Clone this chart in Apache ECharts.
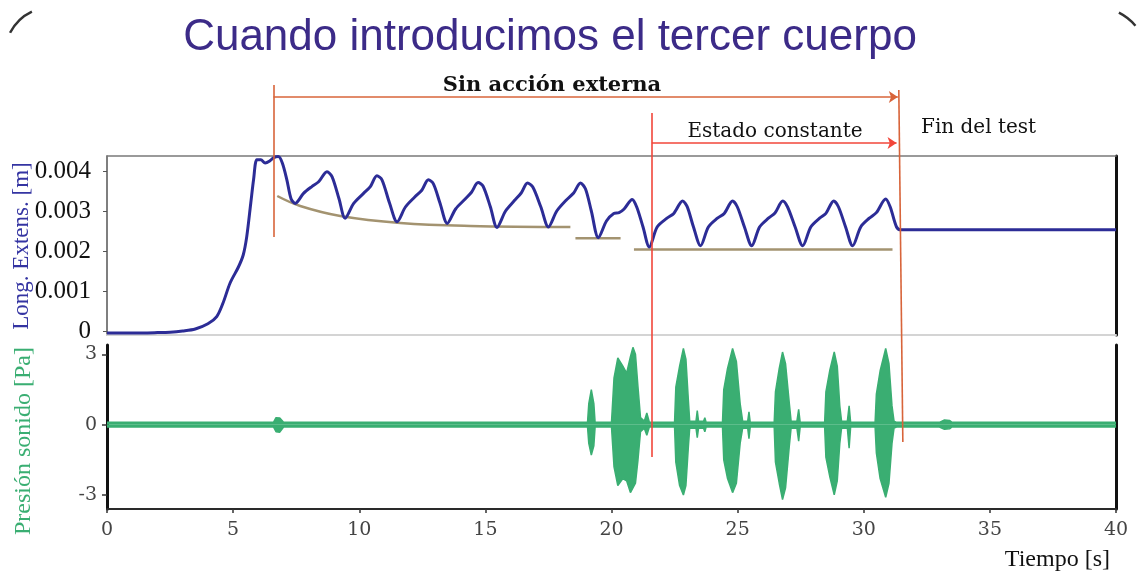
<!DOCTYPE html>
<html>
<head>
<meta charset="utf-8">
<script src="https://cdn.jsdelivr.net/npm/echarts@6/dist/echarts.min.js"></script>
<style>
html,body{margin:0;padding:0;background:#fff;}
#chart{width:1137px;height:571px;}
</style>
</head>
<body>
<div id="chart"></div>
<script>
// ---------- Data ----------
// Upper panel: longitudinal extension [m] vs time [s]
const extTime = [0, 1.0, 2.0, 2.5, 3.0, 3.5, 4.0, 4.35, 4.6, 4.88, 5.21, 5.4, 5.54, 5.7, 5.81, 5.94, 6.1, 6.27, 6.45, 6.6, 6.79, 6.95, 7.13, 7.3,
  7.46, 7.79, 8.12, 8.39, 8.72, 8.92, 9.2,
  9.44, 9.78, 10.17, 10.44, 10.7, 10.9, 11.2,
  11.5, 11.83, 12.2, 12.48, 12.74, 12.94, 13.2,
  13.49, 13.82, 14.2, 14.45, 14.71, 14.91, 15.2,
  15.46, 15.8, 16.15, 16.42, 16.67, 16.88, 17.2,
  17.5, 17.83, 18.2, 18.5, 18.77, 18.97, 19.2,
  19.48, 19.8, 20.09, 20.3, 20.5, 20.82, 21.0, 21.25,
  21.5, 21.81, 22.2, 22.47, 22.82, 23.0, 23.25,
  23.53, 23.84, 24.2, 24.47, 24.8, 24.99, 25.27,
  25.56, 25.87, 26.22, 26.48, 26.79, 26.98, 27.28,
  27.58, 27.9, 28.25, 28.5, 28.81, 29.0, 29.28,
  29.56, 29.88, 30.22, 30.5, 30.87, 31.05, 31.3, 31.47, 40];
const extValue = [-0.00005, -0.00005, -0.00004, -0.00003, 0.0, 0.00005, 0.00018, 0.00036, 0.0007, 0.0012, 0.0016, 0.0019, 0.00236, 0.0032, 0.00378, 0.00428, 0.00428, 0.0042, 0.00425, 0.00433, 0.00436, 0.0042, 0.00378, 0.0033,
  0.00319, 0.00344, 0.00361, 0.00373, 0.00398, 0.00386, 0.0033,
  0.00282, 0.00319, 0.00344, 0.00361, 0.00388, 0.00378, 0.0032,
  0.00273, 0.0031, 0.00335, 0.00352, 0.00378, 0.00368, 0.0032,
  0.00269, 0.00305, 0.0033, 0.00347, 0.00371, 0.00362, 0.0031,
  0.00259, 0.003, 0.00326, 0.00345, 0.0037, 0.0036, 0.0031,
  0.0026, 0.003, 0.00327, 0.00345, 0.0037, 0.00355, 0.003,
  0.00233, 0.00275, 0.00294, 0.00296, 0.00305, 0.00329, 0.0031, 0.0026,
  0.0021, 0.0026, 0.00282, 0.00294, 0.00325, 0.00311, 0.0026,
  0.00213, 0.0026, 0.00282, 0.00294, 0.00325, 0.0031, 0.0026,
  0.00213, 0.0026, 0.00282, 0.00295, 0.00325, 0.0031, 0.0026,
  0.00213, 0.0026, 0.00282, 0.00294, 0.00325, 0.0031, 0.0026,
  0.00213, 0.0026, 0.00282, 0.00296, 0.0033, 0.0031, 0.0026, 0.00253, 0.00253];

// Brown trend guides drawn on the upper panel
const trendATime = [6.75, 7.66, 9.25, 11.63, 14.4, 18.37];
const trendAValue = [0.003375, 0.003125, 0.002875, 0.0027, 0.002625, 0.0026];
const trendBTime = [18.57, 20.36];
const trendBValue = [0.00232, 0.00232];
const trendCTime = [20.89, 31.14];
const trendCValue = [0.00204, 0.00204];

// Lower panel: sound pressure envelope [Pa] vs time [s]
const soundTime = [0, 6.6, 6.7, 6.85, 7.0,
  19.05, 19.1, 19.2, 19.3, 19.35,
  20.0, 20.1, 20.25, 20.45, 20.6, 20.75, 20.85, 20.95, 21.05, 21.15, 21.3, 21.4, 21.5,
  22.5, 22.55, 22.7, 22.85, 22.95, 23.05, 23.1, 23.35, 23.4, 23.45, 23.65, 23.7, 23.75,
  24.4, 24.45, 24.6, 24.8, 24.95, 25.1, 25.2, 25.4, 25.45, 25.5,
  26.45, 26.5, 26.65, 26.78, 26.9, 27.05, 27.12, 27.35, 27.42, 27.48,
  28.45, 28.5, 28.65, 28.83, 28.95, 29.05, 29.12, 29.35, 29.42, 29.48,
  30.45, 30.5, 30.65, 30.87, 31.0, 31.12, 31.2, 31.3,
  33.0, 33.2, 33.4, 33.5, 40];
const soundUpper = [0.1, 0.1, 0.3, 0.28, 0.1,
  0.1, 0.9, 1.5, 0.9, 0.1,
  0.1, 2.0, 2.85, 2.5, 2.2, 2.9, 3.3, 3.0, 1.6, 0.3, 0.15, 0.5, 0.1,
  0.1, 1.6, 2.5, 3.25, 2.8, 1.0, 0.15, 0.15, 0.6, 0.15, 0.15, 0.3, 0.1,
  0.1, 1.5, 2.4, 3.25, 2.7, 0.9, 0.15, 0.15, 0.55, 0.1,
  0.1, 1.4, 2.4, 3.1, 2.6, 0.9, 0.15, 0.15, 0.65, 0.1,
  0.1, 1.4, 2.3, 3.1, 2.5, 0.8, 0.15, 0.15, 0.8, 0.1,
  0.1, 1.3, 2.3, 3.25, 2.6, 0.8, 0.15, 0.1,
  0.1, 0.2, 0.18, 0.1, 0.1];
const soundLower = [-0.1, -0.1, -0.3, -0.32, -0.1,
  -0.1, -0.8, -1.3, -0.9, -0.1,
  -0.1, -1.8, -2.6, -2.3, -2.4, -2.9, -2.7, -2.5, -1.5, -0.3, -0.15, -0.45, -0.1,
  -0.1, -1.6, -2.6, -3.0, -2.6, -0.9, -0.15, -0.15, -0.55, -0.15, -0.15, -0.3, -0.1,
  -0.1, -1.5, -2.3, -2.9, -2.5, -0.8, -0.15, -0.15, -0.6, -0.1,
  -0.1, -1.6, -2.5, -3.2, -2.7, -0.9, -0.15, -0.15, -0.7, -0.1,
  -0.1, -1.4, -2.2, -3.0, -2.4, -0.8, -0.15, -0.15, -1.0, -0.1,
  -0.1, -1.2, -2.3, -3.1, -2.5, -0.8, -0.15, -0.1,
  -0.1, -0.2, -0.18, -0.1, -0.1];

// Tick values
const timeTicks = [0, 5, 10, 15, 20, 25, 30, 35, 40];
const extTicks = [0, 0.001, 0.002, 0.003, 0.004];
const soundTicks = [-3, 0, 3];

// Annotation segments (time, extension-axis value)
const startLine = [[6.6, 0.00615], [6.6, 0.00235]];
const sinAccionArrow = [[6.6, 0.00585], [31.35, 0.00585]];
const estadoLine = [[21.6, 0.00545], [21.6, -0.00315]];
const estadoArrow = [[21.6, 0.0047], [31.3, 0.0047]];
const finLine = [[31.39, 0.006025], [31.55, -0.002775]];

// ---------- Helpers ----------
const zip = (a, b) => a.map((v, i) => [v, b[i]]);

const chart = echarts.init(document.getElementById('chart'), null, {renderer: 'canvas'});

const serifLabel = 'Liberation Serif';
const option = {
  animation: false,
  backgroundColor: '#ffffff',
  grid: [
    {left: 107, top: 156, width: 1009, height: 179, containLabel: false, outerBoundsMode: 'none'},
    {left: 107, top: 345, width: 1009, height: 164, containLabel: false, outerBoundsMode: 'none'}
  ],
  xAxis: [
    { // upper panel bottom edge
      gridIndex: 0, type: 'value', min: 0, max: 40, interval: 5, position: 'bottom',
      axisLine: {show: true, onZero: false, lineStyle: {color: '#d4d4d4', width: 2}},
      axisTick: {show: false}, axisLabel: {show: false}, splitLine: {show: false}
    },
    { // upper panel top edge
      gridIndex: 0, type: 'value', min: 0, max: 40, interval: 5, position: 'top',
      axisLine: {show: true, onZero: false, lineStyle: {color: '#7a7a7a', width: 1.5}},
      axisTick: {show: false}, axisLabel: {show: false}, splitLine: {show: false}
    },
    { // lower panel time axis
      gridIndex: 1, type: 'value', min: 0, max: 40, interval: 5, position: 'bottom',
      axisLine: {show: true, onZero: false, lineStyle: {color: '#2a2a2a', width: 2}},
      axisTick: {show: true, inside: false, length: 4, lineStyle: {color: '#333', width: 1.5}},
      axisLabel: {show: true, margin: 12, color: '#444', fontFamily: 'DejaVu Serif', fontSize: 19,
        customValues: timeTicks, formatter: v => String(v)},
      splitLine: {show: false}
    }
  ],
  yAxis: [
    { // extension axis
      gridIndex: 0, type: 'value', min: -0.0001, max: 0.004375, position: 'left',
      axisLine: {show: true, onZero: false, lineStyle: {color: '#555', width: 1.5}},
      axisTick: {show: true, length: 4, customValues: extTicks, lineStyle: {color: '#555'}},
      axisLabel: {show: true, margin: 16, color: '#111', fontFamily: serifLabel, fontSize: 25,
        customValues: extTicks, formatter: v => (v === 0 ? '0' : v.toFixed(3))},
      splitLine: {show: false}
    },
    { // right edge upper
      gridIndex: 0, type: 'value', min: -0.0001, max: 0.004375, position: 'right',
      axisLine: {show: true, onZero: false, lineStyle: {color: '#111', width: 3}},
      axisTick: {show: false}, axisLabel: {show: false}, splitLine: {show: false}
    },
    { // sound axis
      gridIndex: 1, type: 'value', min: -3.6, max: 3.4, position: 'left',
      axisLine: {show: true, onZero: false, lineStyle: {color: '#111', width: 3}},
      axisTick: {show: true, length: 5, customValues: soundTicks, lineStyle: {color: '#333', width: 1.5}},
      axisLabel: {show: true, margin: 10, color: '#444', fontFamily: 'DejaVu Serif', fontSize: 19,
        customValues: soundTicks, formatter: v => String(v)},
      splitLine: {show: false}
    },
    { // right edge lower
      gridIndex: 1, type: 'value', min: -3.6, max: 3.4, position: 'right',
      axisLine: {show: true, onZero: false, lineStyle: {color: '#111', width: 3}},
      axisTick: {show: false}, axisLabel: {show: false}, splitLine: {show: false}
    }
  ],
  series: [
    {
      name: 'sound upper', type: 'line', xAxisIndex: 2, yAxisIndex: 2,
      data: zip(soundTime, soundUpper), showSymbol: false, z: 2,
      lineStyle: {color: '#3aae72', width: 1.5},
      areaStyle: {color: '#3aae72', opacity: 1}
    },
    {
      name: 'sound lower', type: 'line', xAxisIndex: 2, yAxisIndex: 2,
      data: zip(soundTime, soundLower), showSymbol: false, z: 2,
      lineStyle: {color: '#3aae72', width: 1.5},
      areaStyle: {color: '#3aae72', opacity: 1}
    },
    {
      name: 'trendA', type: 'line', xAxisIndex: 0, yAxisIndex: 0, smooth: 0.4,
      data: zip(trendATime, trendAValue), showSymbol: false, z: 3,
      lineStyle: {color: '#a39370', width: 2.5}
    },
    {
      name: 'trendB', type: 'line', xAxisIndex: 0, yAxisIndex: 0,
      data: zip(trendBTime, trendBValue), showSymbol: false, z: 3,
      lineStyle: {color: '#a39370', width: 2.5}
    },
    {
      name: 'trendC', type: 'line', xAxisIndex: 0, yAxisIndex: 0,
      data: zip(trendCTime, trendCValue), showSymbol: false, z: 3,
      lineStyle: {color: '#a39370', width: 2.5}
    },
    {
      name: 'extension', type: 'line', xAxisIndex: 0, yAxisIndex: 0, smooth: 0.3,
      data: zip(extTime, extValue), showSymbol: false, z: 4,
      lineStyle: {color: '#2c2c96', width: 3}
    },
    {
      name: 'orange marks', type: 'lines', coordinateSystem: 'cartesian2d', xAxisIndex: 0, yAxisIndex: 0,
      clip: false, z: 5, symbol: ['none', 'none'],
      lineStyle: {color: '#d8643a', width: 1.6, opacity: 1, curveness: 0},
      data: [{coords: startLine}, {coords: finLine}]
    },
    {
      name: 'sin accion arrow', type: 'lines', coordinateSystem: 'cartesian2d', xAxisIndex: 0, yAxisIndex: 0,
      clip: false, z: 5, symbol: ['none', 'arrow'], symbolSize: 9,
      lineStyle: {color: '#d8643a', width: 1.6, opacity: 1, curveness: 0},
      data: [{coords: sinAccionArrow}]
    },
    {
      name: 'red line', type: 'lines', coordinateSystem: 'cartesian2d', xAxisIndex: 0, yAxisIndex: 0,
      clip: false, z: 5, symbol: ['none', 'none'],
      lineStyle: {color: '#f2463a', width: 1.6, opacity: 1, curveness: 0},
      data: [{coords: estadoLine}]
    },
    {
      name: 'estado arrow', type: 'lines', coordinateSystem: 'cartesian2d', xAxisIndex: 0, yAxisIndex: 0,
      clip: false, z: 5, symbol: ['none', 'arrow'], symbolSize: 9,
      lineStyle: {color: '#f2463a', width: 1.6, opacity: 1, curveness: 0},
      data: [{coords: estadoArrow}]
    }
  ],
  graphic: [
    {type: 'text', x: 550, y: 38, style: {text: 'Cuando introducimos el tercer cuerpo', fill: '#3c2b88',
      font: '44px "Liberation Sans", Arial, sans-serif', align: 'center', verticalAlign: 'middle'}},
    {type: 'text', x: 552, y: 86, style: {text: 'Sin acción externa', fill: '#111',
      font: 'bold 21px "DejaVu Serif", serif', align: 'center', verticalAlign: 'middle'}},
    {type: 'text', x: 775, y: 132, style: {text: 'Estado constante', fill: '#111',
      font: '20px "DejaVu Serif", serif', align: 'center', verticalAlign: 'middle'}},
    {type: 'text', x: 921, y: 128, style: {text: 'Fin del test', fill: '#111',
      font: '20px "DejaVu Serif", serif', align: 'left', verticalAlign: 'middle'}},
    {type: 'text', x: 1110, y: 560, style: {text: 'Tiempo [s]', fill: '#111',
      font: '24px "Liberation Serif", serif', align: 'right', verticalAlign: 'middle'}},
    {type: 'text', x: 22, y: 246, rotation: Math.PI / 2, style: {text: 'Long. Extens. [m]', fill: '#3434a2',
      font: '23px "Liberation Serif", serif', align: 'center', verticalAlign: 'middle'}},
    {type: 'text', x: 24, y: 441, rotation: Math.PI / 2, style: {text: 'Presión sonido [Pa]', fill: '#3aae72',
      font: '24px "Liberation Serif", serif', align: 'center', verticalAlign: 'middle'}},
    {type: 'arc', shape: {cx: 52, cy: 54, r: 47, startAngle: 3.61, endAngle: 4.27, clockwise: true},
      style: {stroke: '#333', lineWidth: 2.5, fill: null}},
    {type: 'arc', shape: {cx: 1095, cy: 60, r: 53, startAngle: 5.18, endAngle: 5.58, clockwise: true},
      style: {stroke: '#333', lineWidth: 2.5, fill: null}}
  ]
};
chart.setOption(option);
</script>
</body>
</html>
